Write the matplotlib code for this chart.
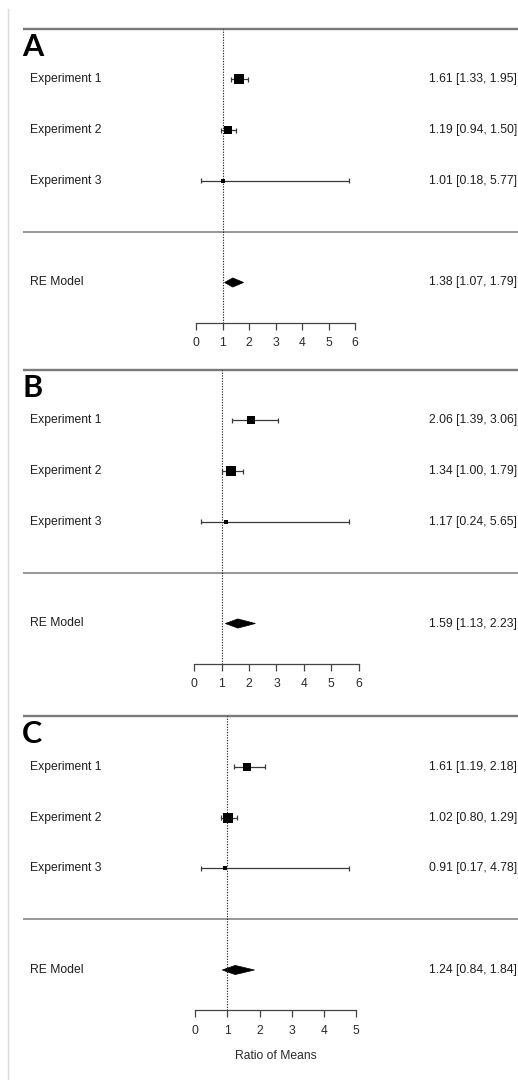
import numpy as np
import matplotlib.pyplot as plt
from matplotlib.lines import Line2D
from matplotlib.patches import Polygon

plt.rcParams['font.family'] = ['Liberation Sans', 'DejaVu Sans']

# study labels and panel tags
studies = ['Experiment 1', 'Experiment 2', 'Experiment 3']
tags = ['A', 'B', 'C']

# ratio of means with 95% CI for each experiment, one list per panel
est_a = [1.61, 1.19, 1.01]
lo_a = [1.33, 0.94, 0.18]
hi_a = [1.95, 1.50, 5.77]
est_b = [2.06, 1.34, 1.17]
lo_b = [1.39, 1.00, 0.24]
hi_b = [3.06, 1.79, 5.65]
est_c = [1.61, 1.02, 0.91]
lo_c = [1.19, 0.80, 0.17]
hi_c = [2.18, 1.29, 4.78]

# random-effects summary: estimate, lower, upper
re_a = [1.38, 1.07, 1.79]
re_b = [1.59, 1.13, 2.23]
re_c = [1.24, 0.84, 1.84]

ticks_a = [0, 1, 2, 3, 4, 5, 6]
ticks_b = [0, 1, 2, 3, 4, 5, 6]
ticks_c = [0, 1, 2, 3, 4, 5]
xlabel = 'Ratio of Means'

W, H = 518, 1082
fig = plt.figure(figsize=(W / 100, H / 100), dpi=100)

# light frame line on the left edge
fig.add_artist(Line2D([7.5 / W, 7.5 / W], [1 - 9 / H, 1 - 1079 / H],
                      color='#dadada', lw=1.0))

ROW = 50.8          # pixels per row
LEFT_PX = 23        # left end of the horizontal rules
AXIS_ROW = -1.79    # row of the x axis line

# (top rule pixel, bottom pixel, x pixel of 0, pixels per unit)
layout = [(28.5, 369.5, 196.2, 26.5),
          (369.5, 716.0, 194.4, 27.36),
          (716.0, 1082.0, 195.3, 32.15)]

panels = [(est_a, lo_a, hi_a, re_a, ticks_a),
          (est_b, lo_b, hi_b, re_b, ticks_b),
          (est_c, lo_c, hi_c, re_c, ticks_c)]

txt_col = '#1e1e1e'
rule_col = '#7a7a7a'

for i, ((est, lo, hi, re, ticks), (top, bot, zero, ppu)) in enumerate(zip(panels, layout)):
    ax = fig.add_axes([LEFT_PX / W, 1 - bot / H, 1 - LEFT_PX / W, (bot - top + 6) / H])
    ax.set_xlim((LEFT_PX - zero) / ppu, (W - zero) / ppu)
    ax.set_ylim(4 - (bot - top) / ROW, 4 + 6 / ROW)

    ax.axhline(4, color=rule_col, lw=1.7)
    ax.axhline(0, color=rule_col, lw=1.1)
    ax.plot([1, 1], [AXIS_ROW, 4], color='#111111', lw=0.8, ls=(0, (1, 1.4)))

    # box size follows precision (1/SE on the log scale)
    se = (np.log(hi) - np.log(lo)) / (2 * 1.96)
    p = 1 / se
    cex = 0.5 + (p - p.min()) / (p.max() - p.min())

    ytf = ax.get_yaxis_transform()
    for j, name in enumerate(studies):
        row = 3 - j
        ax.hlines(row, lo[j], hi[j], color='#3a3a3a', lw=0.9)
        ax.vlines([lo[j], hi[j]], row - 0.05, row + 0.05, color='#3a3a3a', lw=0.9)
        ax.plot(est[j], row, marker='s', ms=4.4 * cex[j], color='black', mew=0)
        ax.text(0.014, row, name, transform=ytf, fontsize=8.7, color=txt_col,
                ha='left', va='center')
        ax.text(0.998, row, f'{est[j]:.2f} [{lo[j]:.2f}, {hi[j]:.2f}]', transform=ytf,
                fontsize=8.7, color=txt_col, ha='right', va='center')

    h = 0.09
    ax.add_patch(Polygon([[re[1], -1], [re[0], -1 + h], [re[2], -1], [re[0], -1 - h]],
                         closed=True, facecolor='black', edgecolor='black', lw=0.5))
    ax.text(0.014, -1, 'RE Model', transform=ytf, fontsize=8.7, color=txt_col,
            ha='left', va='center')
    ax.text(0.998, -1, f'{re[0]:.2f} [{re[1]:.2f}, {re[2]:.2f}]', transform=ytf,
            fontsize=8.7, color=txt_col, ha='right', va='center')

    ax.text(-0.002, 4 - 27 / ROW, tags[i], transform=ytf, fontsize=22,
            fontweight='bold', family=['Lato', 'DejaVu Sans'], color='black',
            ha='left', va='baseline')

    # x axis drawn as a floating spine below the summary row
    for s in ['top', 'right', 'left']:
        ax.spines[s].set_visible(False)
    ax.spines['bottom'].set_position(('data', AXIS_ROW))
    ax.spines['bottom'].set_bounds(ticks[0], ticks[-1])
    ax.spines['bottom'].set_color('#444444')
    ax.spines['bottom'].set_linewidth(0.9)
    ax.set_xticks(ticks)
    ax.set_xticklabels([str(t) for t in ticks])
    ax.tick_params(axis='x', direction='out', length=5, width=0.9, color='#444444',
                   labelsize=8.7, labelcolor='#2a2a2a', pad=5.5)
    ax.set_yticks([])
    ax.patch.set_visible(False)

    if i == 2:
        ax.set_xlabel(xlabel, fontsize=8.7, color='#2a2a2a', va='center')
        ax.xaxis.set_label_coords((ticks[0] + ticks[-1]) / 2, 3 - (1056 - 767) / ROW,
                                  transform=ax.transData)

fig.savefig('out.png', dpi=100, facecolor='white')
